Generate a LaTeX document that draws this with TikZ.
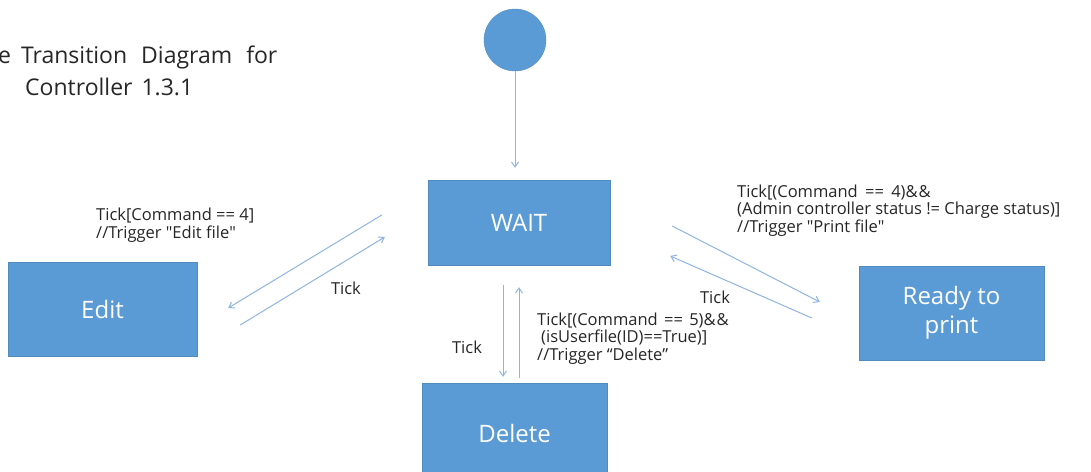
\documentclass[tikz,border=0pt]{standalone}
\usepackage{fontspec}
\setmainfont{Open Sans}
\usetikzlibrary{calc,arrows.meta}
\definecolor{boxblue}{HTML}{5B9BD5}
\definecolor{arrowblue}{HTML}{8FB4E0}
\definecolor{txt}{HTML}{262626}
\newcommand{\sq}{\XeTeXglyph\XeTeXcharglyph"22\relax}
\tikzset{
  state/.style={rectangle, fill=boxblue, draw=boxblue!90!black, line width=0.4pt, text=white, font=\fontsize{24}{28}\selectfont, align=center, inner sep=0pt},
  initial/.style={circle, fill=boxblue, draw=boxblue!90!black, line width=0.4pt, minimum size=62pt, inner sep=0pt},
  trans/.style={draw=arrowblue, line width=1pt, -{Straight Barb[length=5pt,width=7pt]}},
  lbl/.style={text=txt, font=\fontsize{16.5}{17.5}\selectfont, align=left, inner sep=0pt},
  title/.style={text=txt, font=\fontsize{23}{28}\selectfont, inner sep=0pt}
}
\begin{document}
\begin{tikzpicture}[x=1pt,y=-1pt]
\useasboundingbox (0,0) rectangle (1091,471);
\clip (0,0) rectangle (1091,471);
% title
\node[title, anchor=base west] (t1) at (-2,63) {e\hspace{4pt} Transition\hspace{8pt} Diagram\hspace{8pt} for};
\node[title, anchor=base west] (t2) at (25,95) {Controller\hspace{3pt} 1.3.1};
% states
\node[initial] (start) at (515,40) {};
\node[state, minimum width=182pt, minimum height=85pt] (wait) at (519,222.5) {WAIT};
\node[state, minimum width=189pt, minimum height=94pt] (edit) at (102.5,309) {Edit};
\node[state, minimum width=185pt, minimum height=100pt] (delete) at (514.5,433) {Delete};
\node[state, minimum width=185pt, minimum height=94pt] (ready) at (951.5,313) {Ready to\\[1pt]print};
% connectors
\draw[trans] (start.south) -- ($(wait.north)+(-4,-12)$);
\draw[trans] ($(wait.west)+(-46,-7.5)$) -- ($(edit.east)+(31,-1)$);
\draw[trans] ($(edit.east)+(43,16)$) -- ($(wait.west)+(-43,14.5)$);
\draw[trans] ($(wait.south)+(-16,20)$) -- ($(delete.north)+(-11.5,-6)$);
\draw[trans] ($(delete.north)+(4.5,-5)$) -- ($(wait.south)+(0,22)$);
\draw[trans] ($(wait.east)+(62,3.5)$) -- ($(ready.west)+(-39,-11)$);
\draw[trans] ($(ready.west)+(-47,5)$) -- ($(wait.east)+(60,33.5)$);
% labels
\node[lbl, anchor=base west] (le) at (96,238) {Tick[Command == 4]\\//Trigger \sq Edit file\sq};
\node[lbl, anchor=center] (te) at (346,288) {Tick};
\node[lbl, anchor=center] (td) at (467,347) {Tick};
\node[lbl, anchor=base west] (ld) at (537,360) {Tick[(Command\hspace{2pt} ==\hspace{2pt} 5)\&\kern1pt\&\\\hspace{4pt}(isUserfile(ID)==True)]\\//Trigger “Delete”};
\node[lbl, anchor=center] (tr) at (715,297) {Tick};
\node[lbl, anchor=base west] (lr) at (737,232) {Tick[(Command\hspace{3pt} ==\hspace{3pt} 4)\&\kern1pt\&\\(Admin controller status != Charge status)]\\//Trigger \sq Print file\sq};
\end{tikzpicture}
\end{document}
